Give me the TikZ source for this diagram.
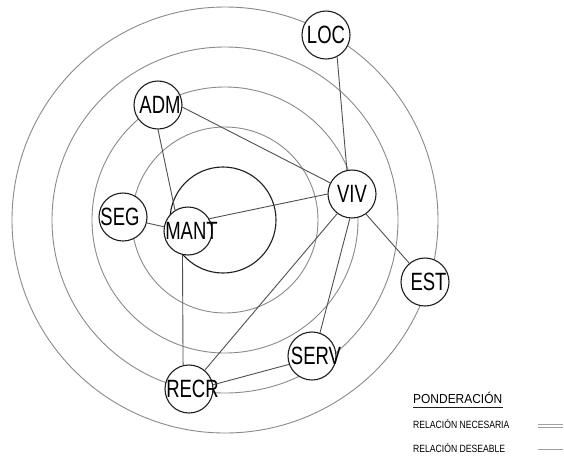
\documentclass[tikz,border=0pt]{standalone}
\usepackage{fontspec}
\setmainfont{Liberation Sans}
\definecolor{ringc}{HTML}{8A8A8A}
\definecolor{connc}{HTML}{505050}
\definecolor{ndc}{HTML}{1E1E1E}
\definecolor{legc}{HTML}{A0A0A0}
\newcommand\nt[2]{\makebox[0pt]{\kern#1pt\scalebox{0.74}[1]{\fontsize{25}{30}\selectfont #2}}}
\newcommand\lgt[1]{\scalebox{0.82}[1]{\fontsize{10.5}{12}\selectfont #1}}
\begin{document}
\begin{tikzpicture}[x=1pt,y=-1pt,
  ring/.style={draw=ringc, line width=0.9pt},
  nd/.style={circle, draw=ndc, line width=1.1pt, fill=white, minimum size=48pt, inner sep=0pt, text=black},
  conn/.style={draw=connc, line width=0.9pt},
  legtext/.style={anchor=base west, inner sep=0pt, text=black}]
\useasboundingbox[fill=white] (0,0) rectangle (564,456);
% concentric rings
\foreach \r in {213,173,133,93} \draw[ring] (225,220) circle[radius=\r pt];
\draw[draw=ndc, line width=1.1pt] (223,220) circle[radius=53pt];
% nodes
\node[nd] (loc)  at (326,35)  {\nt{0}{LOC}};
\node[nd] (adm)  at (158,105) {\nt{4}{ADM}};
\node[nd] (viv)  at (352,194) {\nt{0}{VIV}};
\node[nd] (seg)  at (123,217) {\nt{-6}{SEG}};
\node[nd] (mant) at (188,231) {\nt{7}{MANT}};
\node[nd] (est)  at (425,282) {\nt{7}{EST}};
\node[nd] (serv) at (312,356) {\nt{8}{SERV}};
\node[nd] (recr) at (189,389) {\nt{7}{RECR}};
% connectors
\draw[conn] (loc.-63) -- (viv.102);
\draw[conn] (adm.-5) -- (viv.153);
\draw[conn] (adm.270) -- (mant.122);
\draw[conn] (seg.-14) -- (mant.170);
\draw[conn] (mant.30) -- (viv.180);
\draw[conn] (mant.257) -- (recr.104);
\draw[conn] (viv.233) -- (recr.50);
\draw[conn] (viv.265) -- (serv.71);
\draw[conn] (viv.-55) -- (est.130);
\draw[conn] (recr.10) -- (serv.200);
% legend
\node[legtext] (pond) at (413,403) {\scalebox{0.92}[1]{\fontsize{13}{15}\selectfont PONDERACIÓN}};
\coordinate (u1) at (413,407.5);
\coordinate (u2) at (503,407.5);
\draw[draw=ndc, line width=1.2pt] (u1) -- (u2);
\node[legtext] (nec) at (413,428) {\lgt{RELACIÓN NECESARIA}};
\node[legtext] (des) at (413,452) {\lgt{RELACIÓN DESEABLE}};
\draw[draw=legc, line width=0.8pt] (538,424.5) -- (563,424.5);
\draw[draw=legc, line width=0.8pt] (538,427.5) -- (563,427.5);
\draw[draw=legc, line width=0.8pt] (538,449) -- (563,449);
\end{tikzpicture}
\end{document}
